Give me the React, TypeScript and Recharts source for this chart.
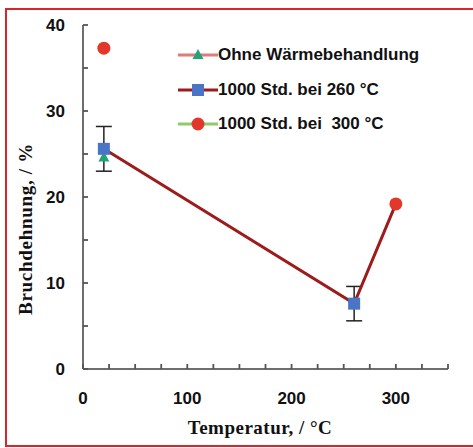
import React from 'react';
import { ComposedChart, Line, XAxis, YAxis, ErrorBar, Label } from 'recharts';

const ohneData = [{ t: 20, v: 24.6 }];
const std260Data = [
  { t: 20, v: 25.6, err: 2.6 },
  { t: 260, v: 7.6, err: 2.0 },
  { t: 300, v: 19.2, err: 0 },
];
const std300Data = [
  { t: 20, v: 37.3 },
  { t: 300, v: 19.2 },
];
const xTicks = [0, 25, 50, 75, 100, 125, 150, 175, 200, 225, 250, 275, 300, 325, 350];
const yTicks = [0, 5, 10, 15, 20, 25, 30, 35, 40];
const xLabels = [0, 100, 200, 300];
const yLabels = [0, 10, 20, 30, 40];
const seriesNames = ['Ohne Wärmebehandlung', '1000 Std. bei 260 °C', '1000 Std. bei  300 °C'];

const C_TRI = '#22a478';
const C_SQ = '#4a74c6';
const C_CIR = '#e2372a';
const L_OHNE = '#e07b7b';
const L_260 = '#9c1c1c';
const L_300 = '#8ccc6c';
const AXIS = '#6e6e6e';

const SANS = '"Liberation Sans", Arial, sans-serif';
const SERIF = '"Liberation Serif", "Times New Roman", serif';

const X_MARGIN = 29;
const Y_MARGIN = 18;
const TICK_LEN = 5;

const XTick = (p: any) => {
  const { x, y, payload } = p;
  const v = payload.value;
  const axisY = Number(y) - X_MARGIN;
  return (
    <g>
      <path d={`M${x},${axisY}V${axisY - TICK_LEN}`} stroke="#555" strokeWidth={1.8} fill="none" />
      {xLabels.includes(v) && (
        <text x={x} y={y} textAnchor="middle" dominantBaseline="central" style={{ fontFamily: SANS, fontWeight: 700, fontSize: 17, fill: '#111' }}>
          {v}
        </text>
      )}
    </g>
  );
};

const YTick = (p: any) => {
  const { x, y, payload } = p;
  const v = payload.value;
  const axisX = Number(x) + Y_MARGIN;
  return (
    <g>
      <path d={`M${axisX},${y}H${axisX + TICK_LEN}`} stroke="#555" strokeWidth={1.8} fill="none" />
      {yLabels.includes(v) && (
        <text x={x} y={y} textAnchor="end" dominantBaseline="central" style={{ fontFamily: SANS, fontWeight: 700, fontSize: 17, fill: '#111' }}>
          {v}
        </text>
      )}
    </g>
  );
};

const Triangle = (p: any) => {
  const { cx, cy } = p;
  if (cx == null || cy == null) return <g key={p.key} />;
  return <polygon key={p.key} points={`${cx},${cy - 6} ${cx - 5.5},${cy + 4} ${cx + 5.5},${cy + 4}`} fill={C_TRI} />;
};
const Square = (p: any) => {
  const { cx, cy, index } = p;
  if (cx == null || cy == null || index === std260Data.length - 1) return <g key={p.key} />;
  return <rect key={p.key} x={cx - 6} y={cy - 6} width={12} height={12} fill={C_SQ} />;
};
const Circle = (p: any) => {
  const { cx, cy } = p;
  if (cx == null || cy == null) return <g key={p.key} />;
  return <circle key={p.key} cx={cx} cy={cy} r={6.5} fill={C_CIR} />;
};

const legendRows = [
  { name: seriesNames[0], line: L_OHNE, marker: 'tri' },
  { name: seriesNames[1], line: L_260, marker: 'sq' },
  { name: seriesNames[2], line: L_300, marker: 'cir' },
];

const LegendBox = () => (
  <div style={{ position: 'absolute', left: 178, top: 38, width: 280 }}>
    {legendRows.map((r) => (
      <div key={r.name} style={{ display: 'flex', alignItems: 'center', height: 34.5 }}>
        <svg width={40} height={16} style={{ display: 'block' }}>
          <line x1={0} y1={8} x2={40} y2={8} stroke={r.line} strokeWidth={3} />
          {r.marker === 'tri' && <polygon points="20,2 14.5,12 25.5,12" fill={C_TRI} />}
          {r.marker === 'sq' && <rect x={14} y={2} width={12} height={12} fill={C_SQ} />}
          {r.marker === 'cir' && <circle cx={20} cy={8} r={6.5} fill={C_CIR} />}
        </svg>
        <span style={{ fontFamily: SANS, fontWeight: 700, fontSize: 17, color: '#111', marginLeft: 0, whiteSpace: 'pre' }}>
          {r.name}
        </span>
      </div>
    ))}
  </div>
);

export default function App() {
  return (
    <div style={{ position: 'absolute', left: 0, top: 0, width: 473, height: 448, background: '#fff', overflow: 'hidden' }}>
      <div
        style={{
          position: 'absolute',
          left: 5,
          top: 8,
          width: 490,
          height: 439,
          border: '2px solid #d7262b',
          boxSizing: 'border-box',
        }}
      />
      <div style={{ position: 'absolute', left: 0, top: 0 }}>
        <ComposedChart width={473} height={448} margin={{ top: 25, right: 25, left: 0, bottom: 0 }}>
          <XAxis
            dataKey="t"
            type="number"
            domain={[0, 350]}
            ticks={xTicks}
            interval={0}
            allowDataOverflow
            height={79}
            tickSize={0}
            tickMargin={X_MARGIN}
            tick={XTick}
            tickLine={false}
            axisLine={{ stroke: AXIS, strokeWidth: 2 }}
          >
            <Label
              content={() => (
                <text x={260} y={434} textAnchor="middle" style={{ fontFamily: SERIF, fontWeight: 700, fontSize: 19, letterSpacing: 0.5, fill: '#111' }}>
                  Temperatur, / °C
                </text>
              )}
            />
          </XAxis>
          <XAxis xAxisId="top" orientation="top" type="number" domain={[0, 350]} height={0} tick={false} tickLine={false} axisLine={{ stroke: '#8a8a8a', strokeWidth: 2 }} />
          <YAxis
            type="number"
            domain={[0, 40]}
            ticks={yTicks}
            interval={0}
            width={83}
            tickSize={0}
            tickMargin={Y_MARGIN}
            tick={YTick}
            tickLine={false}
            axisLine={{ stroke: AXIS, strokeWidth: 2 }}
          >
            <Label
              content={() => (
                <text
                  x={25}
                  y={229}
                  transform="rotate(-90 25 229)"
                  textAnchor="middle"
                  dominantBaseline="central"
                  style={{ fontFamily: SERIF, fontWeight: 700, fontSize: 19, letterSpacing: 0.7, fill: '#111' }}
                >
                  Bruchdehnung, / %
                </text>
              )}
            />
          </YAxis>
          <YAxis yAxisId="right" orientation="right" type="number" domain={[0, 40]} width={0} tick={false} tickLine={false} axisLine={{ stroke: '#8a8a8a', strokeWidth: 2 }} />
          <Line
            data={ohneData}
            dataKey="v"
            name={seriesNames[0]}
            stroke={L_OHNE}
            strokeWidth={3}
            dot={Triangle}
            activeDot={false}
            isAnimationActive={false}
          />
          <Line
            data={std260Data}
            dataKey="v"
            name={seriesNames[1]}
            stroke={L_260}
            strokeWidth={3}
            dot={Square}
            activeDot={false}
            isAnimationActive={false}
          >
            <ErrorBar dataKey="err" width={8} stroke="#222" strokeWidth={1.5} direction="y" />
          </Line>
          <Line
            data={std300Data}
            dataKey="v"
            name={seriesNames[2]}
            stroke="none"
            dot={Circle}
            activeDot={false}
            isAnimationActive={false}
          />
        </ComposedChart>
      </div>
      <LegendBox />
    </div>
  );
}
